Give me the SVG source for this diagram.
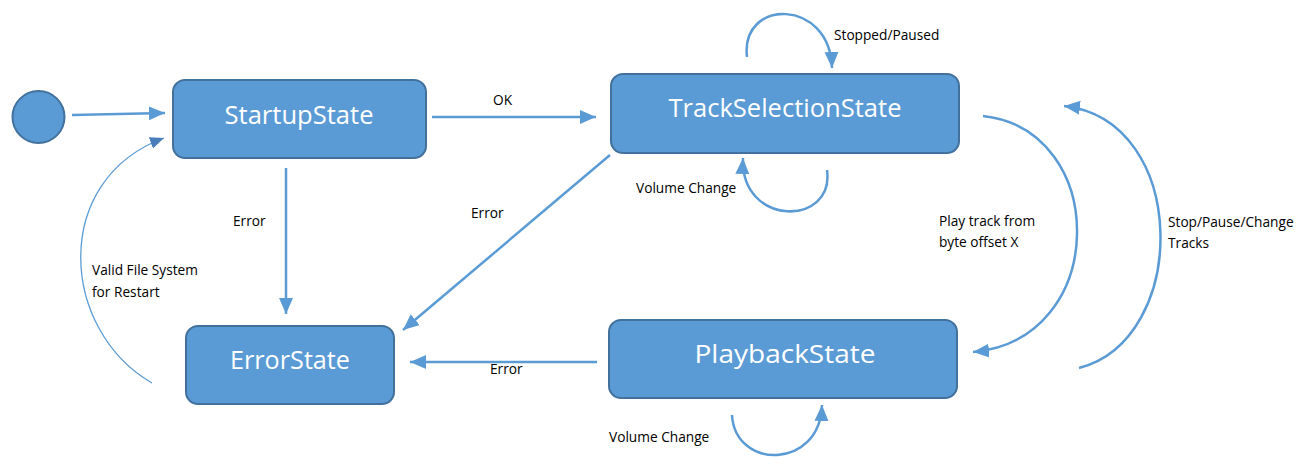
<svg xmlns="http://www.w3.org/2000/svg" width="1309" height="457" viewBox="0 0 1309 457">
  <style>
    .node { fill: #5B9BD5; stroke: #41719C; stroke-width: 2; }
    .ntext { fill: #FFFFFF; font-family: "Open Sans", "Noto Sans", sans-serif; font-size: 25px; text-anchor: middle; dominant-baseline: central; }
    .edge { fill: none; stroke: #5B9BD5; stroke-width: 2.5; }
    .thin { fill: none; stroke: #5B9BD5; stroke-width: 1.3; }
    .lbl { fill: #000000; font-family: "Open Sans", "Noto Sans", sans-serif; font-size: 13.7px; }
  </style>
  <defs>
    <marker id="arrow" markerUnits="userSpaceOnUse" markerWidth="17" markerHeight="15" refX="16" refY="7" orient="auto">
      <path d="M0,0 L16,7 L0,14 z" fill="#5B9BD5"/>
    </marker>
    <marker id="arrowThin" markerUnits="userSpaceOnUse" markerWidth="15" markerHeight="13" refX="14" refY="6" orient="auto">
      <path d="M0,0 L14,6 L0,12 z" fill="#4A7EBB"/>
    </marker>
  </defs>
  <rect width="1309" height="457" fill="#FFFFFF"/>

  <g id="connectors">
    <!-- initial transition -->
    <path class="edge" d="M72,115 L165,113" marker-end="url(#arrow)"/>
    <!-- StartupState -> TrackSelectionState -->
    <path class="edge" d="M432,117 L596,117" marker-end="url(#arrow)"/>
    <!-- StartupState -> ErrorState -->
    <path class="edge" d="M286,168 L286,314" marker-end="url(#arrow)"/>
    <!-- ErrorState -> StartupState -->
    <path class="thin" d="M152,383 C60,330 50,180 164,138" marker-end="url(#arrowThin)"/>
    <!-- TrackSelectionState -> ErrorState -->
    <path class="edge" d="M610,155 L403,330" marker-end="url(#arrow)"/>
    <!-- TrackSelectionState self loops -->
    <path class="edge" d="M747,57 C740,-2 830,-2 832,68" marker-end="url(#arrow)"/>
    <path class="edge" d="M827,170 C835,227 740,227 743,158" marker-end="url(#arrow)"/>
    <!-- TrackSelectionState -> PlaybackState -->
    <path class="edge" d="M983,116 C1110,130 1110,340 973,352" marker-end="url(#arrow)"/>
    <!-- PlaybackState -> TrackSelectionState -->
    <path class="edge" d="M1079,368 C1190,340 1190,120 1064,106" marker-end="url(#arrow)"/>
    <!-- PlaybackState -> ErrorState -->
    <path class="edge" d="M597,362 L410,362" marker-end="url(#arrow)"/>
    <!-- PlaybackState self loop -->
    <path class="edge" d="M732,415 C735,470 820,470 822,405" marker-end="url(#arrow)"/>

    <text class="lbl" x="493" y="105">OK</text>
    <text class="lbl" x="233" y="226">Error</text>
    <text class="lbl" x="92" y="275">Valid File System</text>
    <text class="lbl" x="92" y="297">for Restart</text>
    <text class="lbl" x="471" y="218">Error</text>
    <text class="lbl" x="834" y="40">Stopped/Paused</text>
    <text class="lbl" x="636" y="193">Volume Change</text>
    <text class="lbl" x="939" y="226">Play track from</text>
    <text class="lbl" x="939" y="247">byte offset X</text>
    <text class="lbl" x="1168" y="227">Stop/Pause/Change</text>
    <text class="lbl" x="1168" y="248">Tracks</text>
    <text class="lbl" x="490" y="374">Error</text>
    <text class="lbl" x="609" y="442">Volume Change</text>
  </g>

  <g id="initial">
    <circle cx="38.5" cy="117" r="26" class="node"/>
  </g>
  <g id="startup">
    <rect x="173" y="80" width="253" height="78" rx="12" class="node"/>
    <text class="ntext" x="299" y="114" textLength="149" lengthAdjust="spacingAndGlyphs">StartupState</text>
  </g>
  <g id="trackSelection">
    <rect x="611" y="74" width="348" height="79" rx="12" class="node"/>
    <text class="ntext" x="785" y="107" textLength="233" lengthAdjust="spacingAndGlyphs">TrackSelectionState</text>
  </g>
  <g id="error">
    <rect x="186" y="326" width="208" height="78" rx="12" class="node"/>
    <text class="ntext" x="290" y="359" textLength="120" lengthAdjust="spacingAndGlyphs">ErrorState</text>
  </g>
  <g id="playback">
    <rect x="609" y="320" width="348" height="78" rx="12" class="node"/>
    <text class="ntext" x="785" y="353" textLength="181" lengthAdjust="spacingAndGlyphs">PlaybackState</text>
  </g>
</svg>
